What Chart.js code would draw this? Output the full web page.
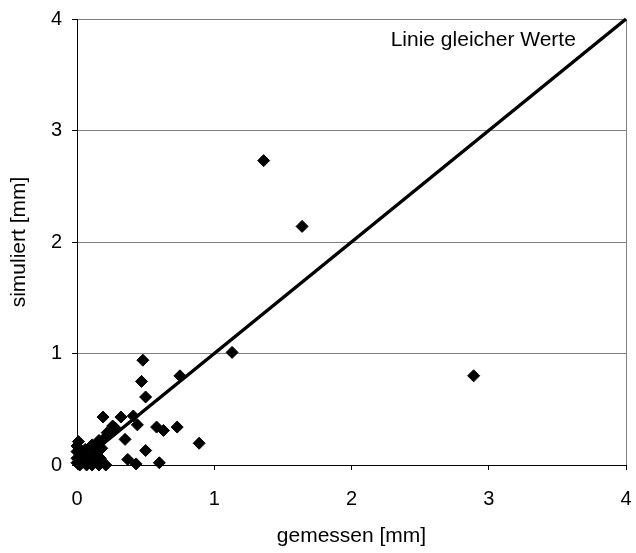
<!DOCTYPE html>
<html lang="de">
<head>
  <meta charset="UTF-8">
  <title>simuliert vs gemessen</title>
  <script src="https://cdn.jsdelivr.net/npm/chart.js"></script>
  <style>
    body { margin: 0; background: #fff; }
    #wrap { width: 636px; height: 553px; }
  </style>
</head>
<body>
  <div id="wrap"><canvas id="chart"></canvas></div>
  <script>
    // gemessen [mm] / simuliert [mm]
    const measured = [
      1.36, 1.64, 2.89, 1.13,
      0.48, 0.75, 0.47, 0.50,
      0.19, 0.32, 0.41,
      0.44, 0.26, 0.58, 0.63, 0.73,
      0.35, 0.22, 0.89, 0.50, 0.37, 0.43, 0.60,
      0.16, 0.11, 0.01, 0.00, 0.00, 0.00, 0.00,
      0.02, 0.07, 0.11, 0.16, 0.21,
      0.05, 0.10, 0.14, 0.18, 0.20, 0.03, 0.08, 0.13, 0.17, 0.06, 0.24, 0.28
    ];
    const simulated = [
      2.73, 2.14, 0.80, 1.01,
      0.94, 0.80, 0.75, 0.61,
      0.43, 0.43, 0.44,
      0.36, 0.35, 0.34, 0.31, 0.34,
      0.23, 0.29, 0.195, 0.13, 0.05, 0.01, 0.02,
      0.22, 0.18, 0.21, 0.17, 0.12, 0.06, 0.02,
      0.00, 0.00, 0.00, 0.00, 0.00,
      0.05, 0.08, 0.12, 0.15, 0.24, 0.10, 0.03, 0.05, 0.06, 0.14, 0.28, 0.33
    ];
    const equalLineX = [0, 4];
    const equalLineY = [0, 4];
    const ticksX = [0, 1, 2, 3, 4];
    const ticksY = [0, 1, 2, 3, 4];
    const lineLabel = 'Linie gleicher Werte';

    const points = measured.map((x, i) => ({ x: x, y: simulated[i] }));
    const diag = equalLineX.map((x, i) => ({ x: x, y: equalLineY[i] }));

    const family = '"Liberation Sans", Arial, sans-serif';
    const tickFont = { family: family, size: 20 };
    const titleFont = { family: family, size: 21 };

    // text label next to the diagonal
    const labelPlugin = {
      id: 'lineLabel',
      afterDatasetsDraw(chart) {
        const ctx = chart.ctx;
        const xs = chart.scales.x, ys = chart.scales.y;
        ctx.save();
        ctx.font = '21px ' + family;
        ctx.fillStyle = '#000';
        ctx.textAlign = 'center';
        ctx.textBaseline = 'middle';
        ctx.fillText(lineLabel, xs.getPixelForValue(2.96), ys.getPixelForValue(3.81));
        ctx.restore();
      }
    };

    new Chart(document.getElementById('chart'), {
      type: 'scatter',
      data: {
        datasets: [
          {
            type: 'line',
            data: diag,
            borderColor: '#000',
            borderWidth: 3.5,
            pointRadius: 0,
            fill: false,
            clip: false,
            order: 2
          },
          {
            data: points,
            pointStyle: 'rectRot',
            pointRadius: 6,
            pointBackgroundColor: '#000',
            pointBorderColor: '#000',
            pointBorderWidth: 1,
            clip: false,
            order: 1
          }
        ]
      },
      options: {
        responsive: true,
        maintainAspectRatio: false,
        animation: false,
        layout: { padding: { top: 19, right: 10, left: 0, bottom: 0 } },
        plugins: { legend: { display: false }, tooltip: { enabled: false } },
        scales: {
          x: {
            type: 'linear',
            min: 0, max: 4,
            afterBuildTicks: s => { s.ticks = ticksX.map(v => ({ value: v })); },
            afterFit: s => { s.height = 88; s.paddingLeft = 0; s.paddingRight = 0; },
            ticks: { color: '#000', font: tickFont, padding: 17, maxRotation: 0 },
            grid: {
              color: c => c.tick && c.tick.value === 4 ? '#808080' : 'rgba(0,0,0,0)',
              tickColor: '#000',
              tickLength: 5,
              lineWidth: 1
            },
            border: { color: '#000', width: 1 },
            title: { display: true, text: 'gemessen [mm]', color: '#000', font: titleFont, padding: { top: 0, bottom: 4 } }
          },
          y: {
            type: 'linear',
            min: 0, max: 4,
            afterBuildTicks: s => { s.ticks = ticksY.map(v => ({ value: v })); },
            afterFit: s => { s.width = 77; s.paddingTop = 0; s.paddingBottom = 0; },
            ticks: { color: '#000', font: tickFont, padding: 10 },
            grid: { color: '#808080', tickColor: '#000', tickLength: 5, lineWidth: 1 },
            border: { color: '#000', width: 1 },
            title: { display: true, text: 'simuliert [mm]', color: '#000', font: titleFont, padding: { top: 7, bottom: 0 } }
          }
        }
      },
      plugins: [labelPlugin]
    });
  </script>
</body>
</html>
